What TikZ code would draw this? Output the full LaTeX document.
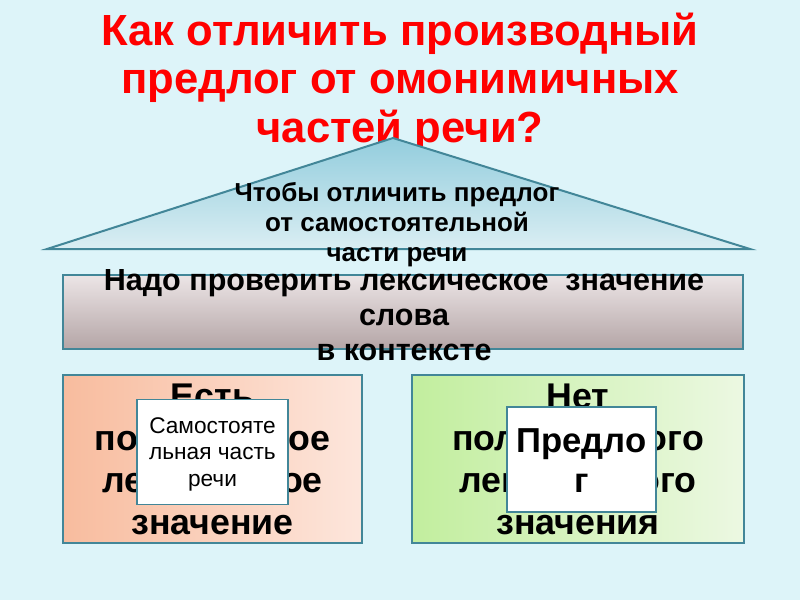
\documentclass[tikz,border=0pt]{standalone}
\usepackage{fontspec}
\setmainfont{Liberation Sans}
\usepackage{xcolor}
\usetikzlibrary{positioning}

\definecolor{slidebg}{RGB}{221,244,249}
\definecolor{edgeteal}{RGB}{66,134,152}
\definecolor{tritop}{RGB}{147,205,221}
\definecolor{tribot}{RGB}{218,238,243}
\definecolor{checktop}{RGB}{236,229,230}
\definecolor{checkbot}{RGB}{180,165,166}
\definecolor{peachdark}{RGB}{248,188,158}
\definecolor{peachlight}{RGB}{253,230,220}
\definecolor{greendark}{RGB}{194,238,158}
\definecolor{greenlight}{RGB}{236,248,226}

\begin{document}
\begin{tikzpicture}[
    x=0.75pt, y=-0.75pt,
    every node/.style={inner sep=0pt, align=center},
    titletext/.style={font=\fontsize{32.7}{36.5}\selectfont\bfseries, text=red},
    tritext/.style={font=\fontsize{19.5}{22.5}\selectfont\bfseries},
    checkbox/.style={
      rectangle, draw=edgeteal, line width=1.5pt,
      top color=checktop, bottom color=checkbot,
      minimum width=510pt, minimum height=55.5pt
    },
    checktext/.style={font=\fontsize{22.9}{26.25}\selectfont\bfseries},
    yesbox/.style={
      rectangle, draw=edgeteal, line width=1.2pt,
      left color=peachdark, right color=peachlight,
      minimum width=224.25pt, minimum height=126pt
    },
    nobox/.style={
      rectangle, draw=edgeteal, line width=1.2pt,
      left color=greendark, right color=greenlight,
      minimum width=249pt, minimum height=126pt
    },
    backtext/.style={font=\fontsize{26.8}{31.5}\selectfont\bfseries},
    answerbox/.style={
      rectangle, draw=edgeteal, line width=1.2pt, fill=white,
      minimum width=113pt, minimum height=79pt
    }
  ]
    % ── Slide background ──
    \fill[slidebg] (0,0) rectangle (800,600);
    \useasboundingbox (0,0) rectangle (800,600);

    % ── Title ──
    \node[titletext] (title) at (400,82) {Как отличить производный\\предлог от омонимичных\\частей речи?};

    % ── Roof ──
    \coordinate (apex) at (393,138);
    \coordinate (roofl) at (47,249);
    \coordinate (roofr) at (750,249);
    \path[draw=edgeteal, line width=1.5pt, top color=tritop, bottom color=tribot]
      (apex) -- (roofl) -- (roofr) -- cycle;
    \node[tritext] (rooftext) at (397,225) {Чтобы отличить предлог\\от самостоятельной\\части речи};

    % ── Check box ──
    \node[checkbox] (check) at (403,312) {};
    \node[checktext] (checktext) at (404,315) {Надо проверить лексическое\ \ значение\\слова\\в контексте};

    % ── Two cases ──
    \node[yesbox] (yes) at (212.5,459) {};
    \node[nobox] (no) at (578,459) {};
    \node[backtext] (yestext) at (yes.center) {Есть\\полноценное\\лексическое\\значение};
    \node[backtext] (notext) at (no.center) {Нет\\полноценного\\лексического\\значения};

    % ── Answers ──
    \node[answerbox] (part) at (212.5,452) {};
    \node[font=\fontsize{17}{19.9}\selectfont] (parttext) at (212.5,454)
      {Самостояте\\льная часть\\речи};
    \node[answerbox, minimum width=112pt] (prep) at (581.5,459.5) {};
    \node[font=\fontsize{26}{30}\selectfont\bfseries] (preptext) at (581.5,461)
      {Предло\\г};

\end{tikzpicture}
\end{document}
